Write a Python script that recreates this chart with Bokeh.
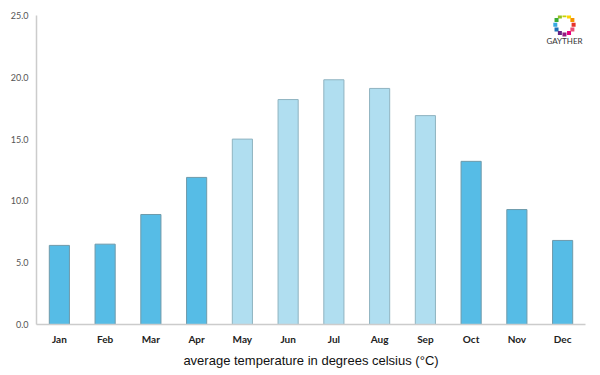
import numpy as np
from bokeh.plotting import figure
from bokeh.models import ColumnDataSource, Range1d, NumeralTickFormatter, FixedTicker
from bokeh.core.properties import value
from bokeh.embed import file_html
from bokeh.resources import INLINE

months = ["Jan", "Feb", "Mar", "Apr", "May", "Jun", "Jul", "Aug", "Sep", "Oct", "Nov", "Dec"]
temps = [6.4, 6.5, 8.9, 11.9, 15.0, 18.2, 19.8, 19.1, 16.9, 13.2, 9.3, 6.8]
warm = [False, False, False, False, True, True, True, True, True, False, False, False]
y_ticks = [0, 5, 10, 15, 20, 25]

colors = ["#B0DEF0" if w else "#56BCE6" for w in warm]
outlines = ["#8FB3C0" if w else "#6E9AAA" for w in warm]
xpos = [i + 0.5 for i in range(len(months))]

src = ColumnDataSource(dict(x=xpos, month=months, temp=temps, color=colors, outline=outlines))

p = figure(width=590, height=370, x_range=Range1d(0, len(months)), y_range=Range1d(0, 25),
           output_backend="svg", toolbar_location=None,
           min_border_left=36, min_border_right=5, min_border_top=15, min_border_bottom=44)
p.outline_line_color = None
p.grid.grid_line_color = None
p.background_fill_color = "white"

p.vbar(x="x", top="temp", width=0.44, source=src, fill_color="color",
       line_color="outline", line_width=1)

# axes
p.yaxis.ticker = FixedTicker(ticks=y_ticks)
p.yaxis.formatter = NumeralTickFormatter(format="0.0")
p.xaxis.ticker = FixedTicker(ticks=xpos)
p.xaxis.major_label_overrides = {x: m for x, m in zip(xpos, months)}
for ax in (p.xaxis[0], p.yaxis[0]):
    ax.axis_line_color = "#CCCCCC"
    ax.axis_line_width = 1.5
    ax.major_tick_line_color = None
    ax.minor_tick_line_color = None
    ax.major_tick_out = 0
    ax.major_tick_in = 0
    ax.minor_tick_out = 0
    ax.minor_tick_in = 0
p.yaxis.major_label_text_font = "Lato"
p.yaxis.major_label_text_font_size = "9px"
p.yaxis.major_label_text_color = "#555555"
p.yaxis.major_label_standoff = 8

p.xaxis.major_label_text_font = "Lato"
p.xaxis.major_label_text_font_size = "10px"
p.xaxis.major_label_text_font_style = "bold"
p.xaxis.major_label_text_color = "#222222"
p.xaxis.major_label_standoff = 8
p.xaxis.axis_label = "average temperature in degrees celsius (°C)"
p.xaxis.axis_label_text_font = "Liberation Sans"
p.xaxis.axis_label_text_font_size = "13px"
p.xaxis.axis_label_text_font_style = "normal"
p.xaxis.axis_label_text_color = "#111111"
p.xaxis.axis_label_standoff = 5

# logo (decoration)
ang = np.linspace(0, 2 * np.pi, 12, endpoint=False)
logo_cols = ["#E6332A", "#F39200", "#FFD500", "#C8D400", "#95C11F", "#3AAA35",
             "#36A9E1", "#1D71B8", "#662483", "#951B81", "#E6007E", "#E94E77"]
p.scatter(x=11.54 + 0.2 * np.cos(ang), y=24.25 + 0.78 * np.sin(ang), size=4,
          marker="square", fill_color=logo_cols, line_color=None)
p.text(x=[11.54], y=[22.9], text=["GAYTHER"],
       text_font=value("Lato"), text_font_size="8px", text_color="#333333",
       text_align="center", text_baseline="middle")

open("out.html", "w").write(file_html(p, INLINE))
